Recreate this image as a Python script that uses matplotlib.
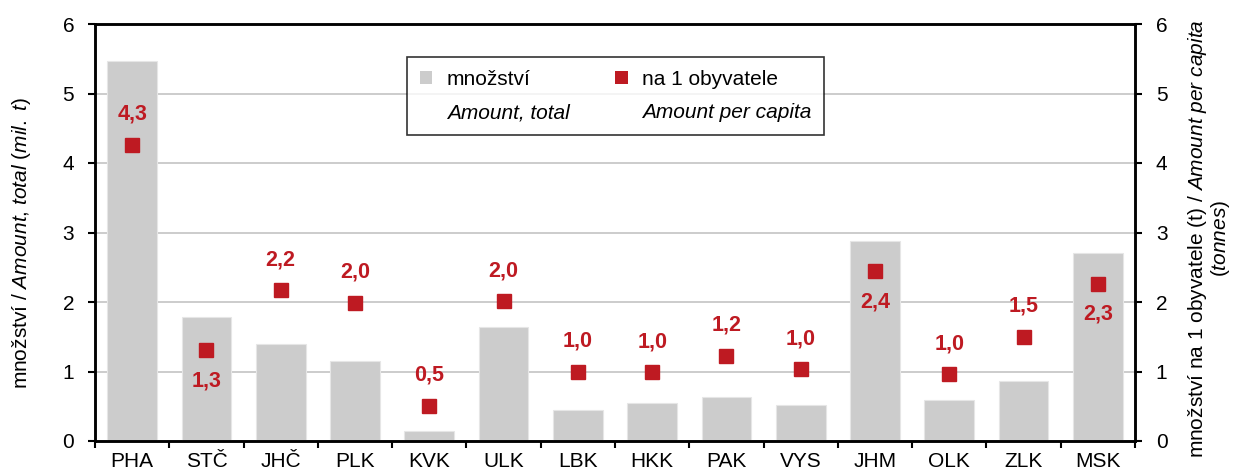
import matplotlib
matplotlib.use("Agg")
import matplotlib.pyplot as plt
from matplotlib.lines import Line2D
from matplotlib.patches import Patch

plt.rcParams['font.family'] = ['Liberation Sans', 'DejaVu Sans']
plt.rcParams['mathtext.fontset'] = 'custom'
plt.rcParams['mathtext.rm'] = 'Liberation Sans'
plt.rcParams['mathtext.it'] = 'Liberation Sans:italic'

regions = ["PHA", "STČ", "JHČ", "PLK", "KVK", "ULK", "LBK", "HKK", "PAK", "VYS", "JHM", "OLK", "ZLK", "MSK"]
amount_total = [5.47, 1.78, 1.40, 1.15, 0.15, 1.64, 0.44, 0.54, 0.64, 0.52, 2.88, 0.59, 0.87, 2.71]
per_capita = [4.26, 1.31, 2.17, 1.99, 0.51, 2.01, 1.00, 0.99, 1.23, 1.03, 2.44, 0.96, 1.50, 2.26]
# label below the marker for these
label_below = ["STČ", "JHM", "MSK"]

gray = '#cccccc'
red = '#be1a22'

fig = plt.figure(figsize=(12.37, 4.75), dpi=100)
ax = fig.add_axes([95 / 1237, 34 / 475, 1040 / 1237, 417 / 475])
x = list(range(len(regions)))

ax.bar(x, amount_total, width=0.67, color=gray, edgecolor='#e6e6e6', linewidth=0.8, zorder=2)
ax.set_ylim(0, 6)
ax.set_xlim(-0.5, len(regions) - 0.5)
ax.set_yticks(range(7))
ax.grid(axis='y', color='#c4c4c4', linewidth=1.2, zorder=0)
ax.set_axisbelow(True)

ax.set_xticks(x)
ax.set_xticklabels(regions, fontsize=15)
ax.set_xticks([i - 0.5 for i in range(len(regions) + 1)], minor=True)
ax.tick_params(axis='x', which='major', length=0, pad=8)
ax.tick_params(axis='x', which='minor', length=5, width=1.5, direction='out')
ax.tick_params(axis='y', length=5, width=1.5, direction='out', labelsize=15, pad=10)
for s in ax.spines.values():
    s.set_linewidth(1.8)

ax2 = ax.twinx()
ax2.set_ylim(0, 6)
ax2.set_yticks(range(7))
ax2.tick_params(axis='y', length=5, width=1.5, direction='out', labelsize=15, pad=10)
for s in ax2.spines.values():
    s.set_linewidth(1.8)

ax2.plot(x, per_capita, linestyle='none', marker='s', markersize=10.5, color=red, zorder=5)
for xi, reg, v in zip(x, regions, per_capita):
    off = -22 if reg in label_below else 22
    ax2.annotate(f"{v:.1f}".replace('.', ','), (xi, v), xytext=(0, off), textcoords='offset points',
                 ha='center', va='center', fontsize=15.5, fontweight='bold', color=red)

ax.set_ylabel(r"množství / $\it{Amount{,}\ total\ (mil.\ t)}$", fontsize=15)
ax.yaxis.set_label_coords(-0.060, 0.475)
ax2.set_ylabel("množství na 1 obyvatele (t) / $\\it{Amount\\ per\\ capita}$\n$\\it{(tonnes)}$",
               fontsize=15, linespacing=1.0)
ax2.yaxis.set_label_coords(1.049, 0.485)

handles = [Patch(facecolor=gray, edgecolor='none'), Line2D([], [], linestyle='none'),
           Patch(facecolor=red, edgecolor='none'), Line2D([], [], linestyle='none')]
labels = ["množství", "Amount, total", "na 1 obyvatele", "Amount per capita"]
leg = ax2.legend(handles, labels, ncol=2, loc='upper left', bbox_to_anchor=(0.30, 0.92),
                 fontsize=15, frameon=True, fancybox=False, edgecolor='black',
                 handlelength=0.6, handleheight=0.6, handletextpad=0.7, columnspacing=2.2,
                 labelspacing=0.7, borderpad=0.6, borderaxespad=0)
leg.get_frame().set_linewidth(1.2)
leg.get_texts()[1].set_style('italic')
leg.get_texts()[3].set_style('italic')

fig.savefig("out.png", dpi=100)
